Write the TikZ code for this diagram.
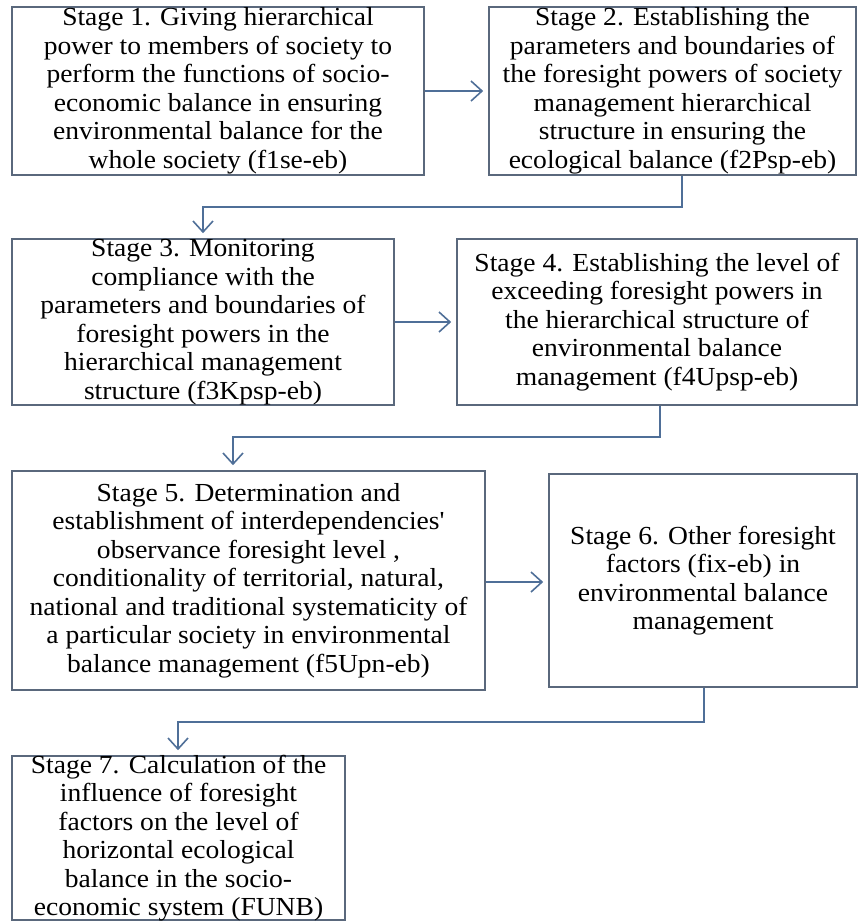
\documentclass[tikz,border=0pt]{standalone}
\usepackage{fontspec}
\setmainfont{Liberation Serif}[FakeStretch=1.06]
\newfontfamily\rawserif{Liberation Serif}[FakeStretch=1.06,Ligatures=TeXOff]
\usetikzlibrary{arrows.meta}
\definecolor{boxline}{HTML}{5A687C}
\definecolor{conn}{HTML}{4F6F98}
\tikzset{
  stagebox/.style={draw=boxline, line width=1.6pt, fill=white, rectangle, inner sep=0pt},
  stagetext/.style={align=center, inner sep=0pt, font=\fontsize{26}{28.5}\selectfont, text=black},
  flow/.style={draw=conn, line width=1.8pt, -{Straight Barb[length=11pt,width=20pt,line width=1.6pt]}, shorten >=5pt}
}
\begin{document}
\begin{tikzpicture}[x=1pt,y=-1pt]
\useasboundingbox (0,0) rectangle (858,922);
% boxes
\node[stagebox, minimum width=412pt, minimum height=168pt] (s1) at (218,91) {};
\node[stagebox, minimum width=367pt, minimum height=168pt] (s2) at (672.5,91) {};
\node[stagebox, minimum width=382pt, minimum height=166pt] (s3) at (203,322) {};
\node[stagebox, minimum width=400pt, minimum height=166pt] (s4) at (657,322) {};
\node[stagebox, minimum width=473pt, minimum height=219pt] (s5) at (248.5,580.5) {};
\node[stagebox, minimum width=308pt, minimum height=213pt] (s6) at (703,580.5) {};
\node[stagebox, minimum width=333pt, minimum height=164pt] (s7) at (178.5,838) {};
% texts
\node[stagetext] (t1) at (s1.center) {Stage 1. Giving hierarchical\\power to members of society to\\perform the functions of socio-\\economic balance in ensuring\\environmental balance for the\\whole society (f1se-eb)};
\node[stagetext] (t2) at (s2.center) {Stage 2. Establishing the\\parameters and boundaries of\\the foresight powers of society\\management hierarchical\\structure in ensuring the\\ecological balance (f2Psp-eb)};
\node[stagetext] (t3) at (s3.center) {Stage 3. Monitoring\\compliance with the\\parameters and boundaries of\\foresight powers in the\\hierarchical management\\structure (f3Kpsp-eb)};
\node[stagetext] (t4) at (s4.center) {Stage 4. Establishing the level of\\exceeding foresight powers in\\the hierarchical structure of\\environmental balance\\management (f4Upsp-eb)};
\node[stagetext] (t5) at (s5.center) {Stage 5. Determination and\\establishment of interdependencies{\rawserif '}\\observance foresight level ,\\conditionality of territorial, natural,\\national and traditional systematicity of\\a particular society in environmental\\balance management (f5Upn-eb)};
\node[stagetext] (t6) at (s6.center) {Stage 6. Other foresight\\factors (fix-eb) in\\environmental balance\\management};
\node[stagetext] (t7) at (s7.center) {Stage 7. Calculation of the\\influence of foresight\\factors on the level of\\horizontal ecological\\balance in the socio-\\economic system (FUNB)};
% bends
\coordinate (b2) at (682,207);
\coordinate (b3) at (203,207);
\coordinate (b4) at (660,437);
\coordinate (b5) at (233,437);
\coordinate (b6) at (704,722);
\coordinate (b7) at (178,722);
% connectors
\draw[flow] (s1.east) -- (s2.west);
\draw[flow] (s2.south -| b2) -- (b2) -- (b3) -- (s3.north -| b3);
\draw[flow] (s3.east) -- (s4.west);
\draw[flow] (s4.south -| b4) -- (b4) -- (b5) -- (s5.north -| b5);
\draw[flow] (s5.east |- 0,582) -- (s6.west |- 0,582);
\draw[flow] (s6.south -| b6) -- (b6) -- (b7) -- (s7.north -| b7);
\end{tikzpicture}
\end{document}
